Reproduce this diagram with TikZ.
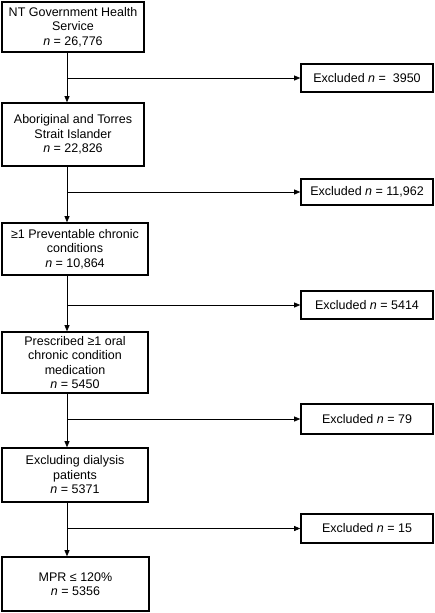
\documentclass[tikz,border=0pt]{standalone}
\usepackage{fontspec}
\setmainfont{Liberation Sans}
\usetikzlibrary{arrows.meta}
\begin{document}
\begin{tikzpicture}[x=1pt,y=-1pt,
  mainbox/.style={draw, line width=1.6pt, inner sep=0pt, align=center, font=\fontsize{12.5}{14.5}\selectfont},
  exbox/.style={draw, line width=1.6pt, inner sep=0pt, align=center, font=\fontsize{12.5}{14.5}\selectfont, minimum width=132pt},
  conn/.style={line width=0.7pt},
  arr/.style={conn, -{Triangle[length=6pt,width=5pt]}}]
\useasboundingbox (0,0) rectangle (435,613);
\coordinate (v) at (67,0);
% main boxes
\node[mainbox, minimum width=142pt, minimum height=50pt] (B1) at (73,27) {NT Government Health\\Service\\\textit{n} = 26,776};
\node[mainbox, minimum width=142pt, minimum height=63pt] (B2) at (73,134.5) {Aboriginal and Torres\\Strait Islander\\\textit{n} = 22,826};
\node[mainbox, minimum width=146pt, minimum height=52pt] (B3) at (75,249) {≥1 Preventable chronic\\conditions\\\textit{n} = 10,864};
\node[mainbox, minimum width=146pt, minimum height=61pt] (B4) at (75,362.5) {Prescribed ≥1 oral\\chronic condition\\medication\\\textit{n} = 5450};
\node[mainbox, minimum width=146pt, minimum height=54pt] (B5) at (75,475) {Excluding dialysis\\patients\\\textit{n} = 5371};
\node[mainbox, minimum width=147pt, minimum height=54pt] (B6) at (75.5,584) {MPR ≤ 120\%\\\textit{n} = 5356};
% excluded boxes
\node[exbox, minimum height=28pt] (E1) at (367,78) {Excluded \textit{n} =\ \ 3950};
\node[exbox, minimum height=26pt] (E2) at (367,192) {Excluded \textit{n} = 11,962};
\node[exbox, minimum height=28pt] (E3) at (367,305) {Excluded \textit{n} = 5414};
\node[exbox, minimum height=30pt] (E4) at (367,419) {Excluded \textit{n} = 79};
\node[exbox, minimum height=29pt] (E5) at (367,528.5) {Excluded \textit{n} = 15};
% vertical connectors
\draw[arr] (B1.south -| v) -- (B2.north -| v);
\draw[arr] (B2.south -| v) -- (B3.north -| v);
\draw[arr] (B3.south -| v) -- (B4.north -| v);
\draw[arr] (B4.south -| v) -- (B5.north -| v);
\draw[arr] (B5.south -| v) -- (B6.north -| v);
% branches
\draw[arr] (v |- E1.west) -- (E1.west);
\draw[arr] (v |- E2.west) -- (E2.west);
\draw[arr] (v |- E3.west) -- (E3.west);
\draw[arr] (v |- E4.west) -- (E4.west);
\draw[arr] (v |- E5.west) -- (E5.west);
\end{tikzpicture}
\end{document}
